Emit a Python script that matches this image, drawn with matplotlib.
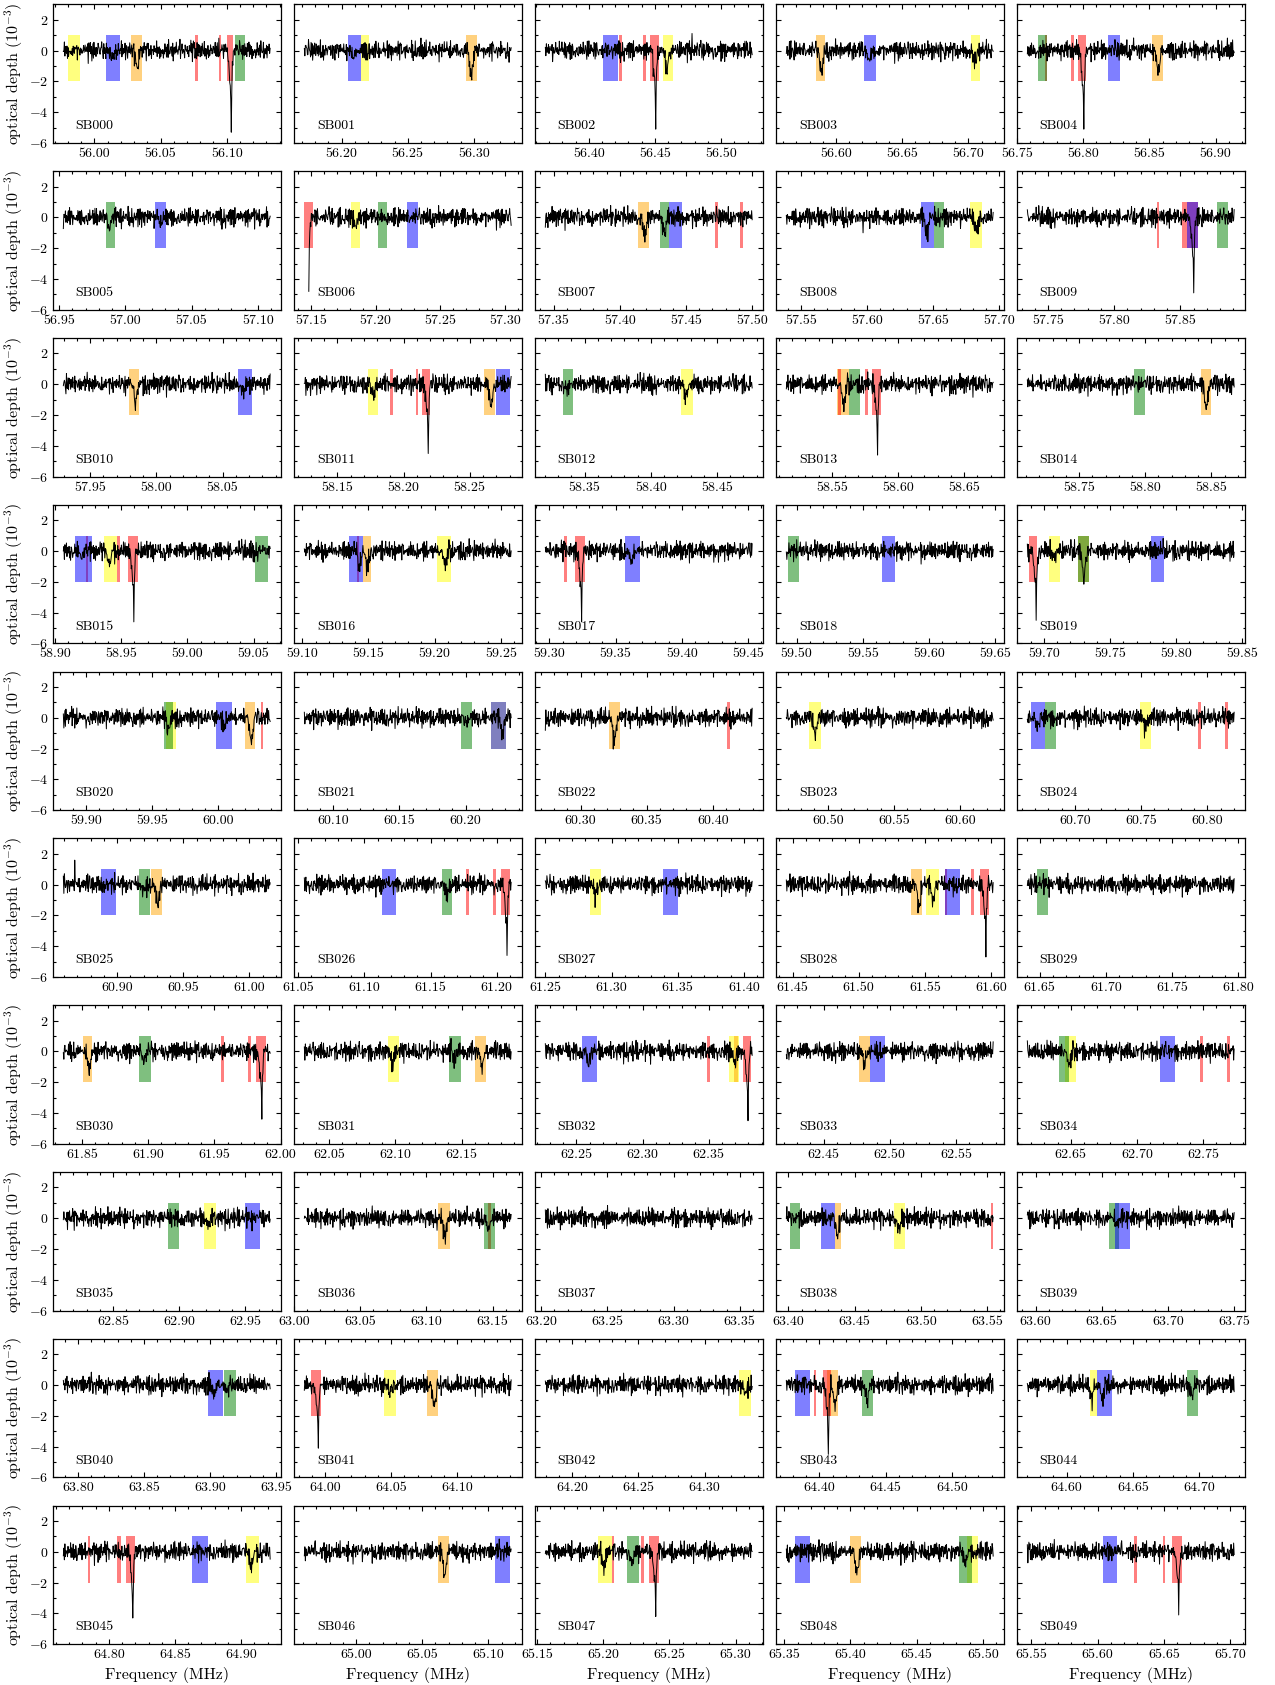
import numpy as np
import matplotlib.pyplot as plt
from matplotlib.ticker import MultipleLocator, FormatStrFormatter

plt.rcParams['font.family'] = 'serif'
plt.rcParams['font.serif'] = ['cmr10', 'DejaVu Serif']
plt.rcParams['mathtext.fontset'] = 'cm'
plt.rcParams['axes.formatter.use_mathtext'] = True
plt.rcParams['font.size'] = 10

# LOFAR subbands: panel SBnnn is subband 287 + nnn
first_subband = 287
subband_width = 0.1953125   # MHz
data_width = 0.15625        # MHz kept per subband
n_chan = 400
n_panels = 50

# hand-read noise samples (10^-3), combined per panel
noise_a = [0.12, -0.35, 0.48, -0.07, 0.21, -0.52, 0.33, 0.05, -0.28, 0.61, -0.14, 0.09, -0.41, 0.27,
           -0.03, 0.38, -0.22, 0.15, -0.60, 0.44, 0.02, -0.17, 0.29, -0.36, 0.51, -0.09, 0.18, -0.47,
           0.07, 0.34, -0.25, 0.56, -0.12, -0.31, 0.23, 0.40, -0.55, 0.11, -0.06, 0.30, -0.44, 0.19,
           0.63, -0.20, -0.01, 0.26, -0.38, 0.14, -0.58, 0.36, 0.08, -0.27, 0.45, -0.10, 0.22, -0.49,
           0.04, 0.31, -0.16, 0.53, -0.33, 0.17, -0.04, -0.42, 0.28, 0.10, -0.23, 0.47, -0.13, 0.35,
           -0.64, 0.20, 0.01, -0.30, 0.42, -0.08, 0.16, -0.51, 0.39, 0.06, -0.19, 0.25, -0.46, 0.58,
           -0.11, 0.13, -0.34, 0.32, -0.02, -0.26, 0.49, -0.15, 0.24, -0.40, 0.03, 0.37, -0.21]
noise_b = [-0.18, 0.41, -0.05, 0.27, -0.50, 0.14, 0.33, -0.29, 0.08, -0.43, 0.55, -0.12, 0.19, -0.36,
           0.02, 0.46, -0.24, 0.11, -0.57, 0.30, -0.07, 0.38, -0.15, 0.22, -0.45, 0.06, 0.52, -0.32,
           0.17, -0.09, -0.39, 0.28, 0.44, -0.20, 0.01, -0.53, 0.35, -0.11, 0.24, -0.30, 0.13, 0.59,
           -0.26, -0.04, 0.40, -0.48, 0.09, 0.21, -0.14, 0.32, -0.37, 0.05, 0.50, -0.22, 0.16, -0.61,
           0.26, -0.02, 0.36, -0.33, 0.10, -0.16, 0.47, -0.08, 0.23, -0.42, 0.04, 0.31, -0.28, 0.54,
           -0.19, 0.12, -0.35, 0.18, -0.06, 0.43, -0.47, 0.15, 0.29, -0.23, 0.07, -0.40, 0.34, -0.13,
           0.20, -0.54, 0.39, -0.01, 0.25]

# line profiles (fraction of peak depth), peak at given index
strong_shape = [0.05, 0.10, 0.18, 0.28, 0.38, 0.44, 0.55, 1.0, 0.45, 0.22, 0.10, 0.04]
strong_peak = 7
broad_shape = [0.10, 0.24, 0.42, 0.62, 0.80, 0.93, 1.0, 0.92, 0.76, 0.56, 0.36, 0.20, 0.08]
broad_peak = 6

# (sb, freq MHz, peak optical depth 10^-3)
strong_lines = [
    (0, 56.1035, -5.3), (2, 56.4506, -5.1), (4, 56.8006, -5.1), (6, 57.148, -4.8),
    (9, 57.860, -4.9), (11, 58.2185, -4.5), (13, 58.5845, -4.6), (15, 58.9597, -4.6),
    (17, 59.3243, -4.6), (19, 59.694, -4.5), (26, 61.2077, -4.6), (28, 61.5959, -4.7),
    (30, 61.986, -4.4), (32, 62.3795, -4.5), (41, 63.9949, -4.1), (43, 64.4066, -4.5),
    (45, 64.818, -4.3), (47, 65.2395, -4.2), (49, 65.6614, -4.1),
]
broad_dips = [
    (0, 56.032, -1.1), (0, 56.013, -0.5), (1, 56.298, -1.7), (1, 56.209, -0.6),
    (2, 56.459, -1.1), (3, 56.589, -1.4), (3, 56.705, -0.8), (3, 56.625, -0.7),
    (4, 56.857, -1.5), (5, 56.988, -0.6), (5, 57.027, -0.5), (6, 57.185, -0.6),
    (7, 57.419, -1.3), (7, 57.434, -1.1), (8, 57.645, -1.1), (8, 57.6826, -0.9),
    (10, 57.984, -1.2), (10, 58.066, -0.5), (11, 58.177, -0.8), (11, 58.266, -1.3),
    (12, 58.4264, -1.0), (12, 58.337, -0.4), (13, 58.559, -1.5), (14, 58.846, -1.4),
    (15, 58.941, -0.9), (15, 58.920, -0.4), (16, 59.143, -1.0), (16, 59.149, -1.0),
    (16, 59.208, -1.0), (17, 59.362, -0.8), (19, 59.730, -1.6), (19, 59.708, -0.5),
    (20, 59.962, -0.8), (20, 60.025, -1.6), (20, 60.004, -0.4), (21, 60.2276, -1.0),
    (21, 60.200, -0.4), (22, 60.3255, -1.6), (23, 60.4907, -1.1), (24, 60.672, -0.7),
    (24, 60.753, -0.6), (25, 60.9306, -1.3), (25, 60.920, -0.5), (26, 61.162, -0.6),
    (27, 61.288, -0.8), (28, 61.5454, -1.5), (28, 61.556, -1.0), (30, 61.8555, -1.3),
    (30, 61.897, -0.6), (31, 62.098, -0.9), (31, 62.1654, -1.1), (31, 62.145, -0.5),
    (32, 62.259, -0.8), (32, 62.370, -0.8), (33, 62.481, -1.0), (34, 62.6488, -1.0),
    (35, 62.922, -0.5), (36, 63.114, -1.2), (36, 63.147, -0.8), (38, 63.4367, -1.2),
    (38, 63.484, -0.7), (39, 63.662, -0.5), (40, 63.903, -0.7), (40, 63.913, -0.5),
    (41, 64.0827, -1.5), (41, 64.049, -0.6), (42, 64.331, -0.6), (43, 64.412, -1.4),
    (43, 64.436, -0.8), (44, 64.6187, -1.0), (44, 64.627, -1.0), (44, 64.695, -0.7),
    (45, 64.9078, -1.0), (46, 65.0671, -1.5), (47, 65.2005, -1.0), (47, 65.222, -0.7),
    (48, 65.4048, -1.4), (48, 65.487, -0.7),
]
noise_spikes = [(7, 57.388, 1.1), (8, 57.597, -1.5), (25, 60.868, 1.3), (4, 56.838, 1.1),
                (39, 63.722, 1.1), (2, 56.478, 0.9)]

# marked line windows (sb, lo, hi) in MHz
yellow_bands = [
    (0, 55.980, 55.989), (1, 56.215, 56.221), (2, 56.456, 56.4635), (3, 56.702, 56.709),
    (6, 57.181, 57.188), (8, 57.678, 57.687), (11, 58.173, 58.181), (12, 58.423, 58.432),
    (15, 58.937, 58.947), (16, 59.202, 59.212), (19, 59.704, 59.712), (20, 59.960, 59.968),
    (21, 60.2191, 60.2306), (23, 60.486, 60.495), (24, 60.7492, 60.7576), (27, 61.2834, 61.2924),
    (28, 61.5508, 61.5604), (31, 62.0941, 62.1031), (32, 62.365, 62.373), (34, 62.6458, 62.6536),
    (35, 62.9186, 62.9276), (38, 63.4794, 63.4884), (41, 64.0442, 64.0538), (42, 64.3261, 64.3351),
    (44, 64.6175, 64.6229), (45, 64.9038, 64.9133), (47, 65.1963, 65.2065), (48, 65.4877, 65.4961),
]
orange_bands = [
    (0, 56.028, 56.036), (1, 56.294, 56.302), (3, 56.585, 56.592), (4, 56.852, 56.860),
    (7, 57.414, 57.422), (10, 57.979, 57.987), (11, 58.261, 58.269), (13, 58.554, 58.563),
    (14, 58.8422, 58.850), (16, 59.146, 59.152), (19, 59.7257, 59.734), (20, 60.0201, 60.0273),
    (22, 60.3213, 60.3297), (25, 60.9258, 60.9336), (28, 61.5394, 61.5478), (30, 61.8507, 61.8579),
    (31, 62.1602, 62.1686), (32, 62.369, 62.372), (33, 62.4769, 62.4853), (36, 63.1091, 63.1175),
    (38, 63.4349, 63.4397), (41, 64.0767, 64.0857), (43, 64.4054, 64.4144), (46, 65.0617, 65.0701),
    (48, 65.3994, 65.4078),
]
green_bands = [
    (0, 56.106, 56.114), (4, 56.766, 56.773), (5, 56.985, 56.992), (6, 57.202, 57.209),
    (7, 57.430, 57.437), (8, 57.6506, 57.658), (9, 57.878, 57.886), (12, 58.334, 58.341),
    (13, 58.563, 58.5713), (14, 58.7918, 58.7996), (15, 59.051, 59.061), (18, 59.4937, 59.5015),
    (19, 59.7257, 59.734), (20, 59.959, 59.966), (21, 60.1963, 60.2047), (24, 60.6776, 60.6854),
    (25, 60.9168, 60.9246), (26, 61.1584, 61.1662), (29, 61.6482, 61.6566), (30, 61.8934, 61.9018),
    (31, 62.1404, 62.1494), (34, 62.641, 62.6488), (35, 62.8915, 62.8999), (36, 63.1434, 63.1518),
    (38, 63.4012, 63.409), (39, 63.6554, 63.6632), (40, 63.9102, 63.9192), (43, 64.4322, 64.4406),
    (44, 64.6908, 64.6992), (47, 65.2179, 65.2269), (48, 65.4823, 65.4919),
]
blue_bands = [
    (0, 56.009, 56.019), (1, 56.205, 56.215), (2, 56.411, 56.422), (3, 56.621, 56.630),
    (4, 56.819, 56.828), (5, 57.022, 57.031), (6, 57.224, 57.233), (7, 57.437, 57.447),
    (8, 57.6406, 57.6506), (9, 57.855, 57.863), (10, 58.062, 58.0725), (11, 58.270, 58.280),
    (15, 58.915, 58.928), (16, 59.135, 59.146), (17, 59.3567, 59.3687), (18, 59.5646, 59.5742),
    (19, 59.781, 59.7907), (20, 59.9985, 60.010), (21, 60.2191, 60.2306), (24, 60.6668, 60.6776),
    (25, 60.888, 60.8988), (26, 61.1133, 61.1241), (27, 61.3387, 61.3501), (28, 61.5652, 61.5766),
    (32, 62.254, 62.2654), (33, 62.4853, 62.4967), (34, 62.7173, 62.7287), (35, 62.9498, 62.9612),
    (38, 63.4247, 63.4349), (39, 63.6602, 63.6716), (40, 63.8982, 63.9096), (43, 64.3819, 64.3927),
    (44, 64.6229, 64.6343), (45, 64.863, 64.875), (46, 65.105, 65.1164), (48, 65.3579, 65.3693),
    (49, 65.6037, 65.6145),
]
red_bands = [
    (0, 56.076, 56.078), (0, 56.094, 56.096), (0, 56.100, 56.105),
    (2, 56.423, 56.425), (2, 56.441, 56.443), (2, 56.4465, 56.453),
    (4, 56.771, 56.773), (4, 56.791, 56.793), (4, 56.796, 56.802),
    (6, 57.145, 57.1515), (7, 57.472, 57.474), (7, 57.491, 57.493),
    (9, 57.832, 57.834), (9, 57.851, 57.863),
    (11, 58.190, 58.192), (11, 58.209, 58.211), (11, 58.214, 58.220),
    (13, 58.555, 58.557), (13, 58.575, 58.577), (13, 58.580, 58.587),
    (15, 58.923, 58.925), (15, 58.947, 58.949), (15, 58.955, 58.963),
    (16, 59.141, 59.143), (17, 59.311, 59.3135), (17, 59.319, 59.3267),
    (19, 59.689, 59.695), (20, 60.032, 60.034), (22, 60.411, 60.413),
    (24, 60.793, 60.795), (24, 60.8135, 60.8155),
    (26, 61.177, 61.179), (26, 61.1975, 61.1993), (26, 61.2035, 61.210),
    (28, 61.5652, 61.567), (28, 61.585, 61.587), (28, 61.5917, 61.5983),
    (30, 61.9547, 61.957), (30, 61.9757, 61.978), (30, 61.9817, 61.9889),
    (32, 62.3489, 62.3507), (32, 62.376, 62.382),
    (34, 62.748, 62.750), (34, 62.7684, 62.7702),
    (36, 63.1467, 63.1485), (38, 63.5527, 63.5545), (41, 63.9895, 63.9967),
    (43, 64.3957, 64.3975), (43, 64.4024, 64.4089),
    (45, 64.784, 64.786), (45, 64.806, 64.809), (45, 64.8128, 64.8198),
    (47, 65.2065, 65.2083), (47, 65.2287, 65.2305), (47, 65.2347, 65.2419),
    (49, 65.6277, 65.6295), (49, 65.6494, 65.6512), (49, 65.656, 65.6638),
]
# drawing order sets the overlap tints (blue over red gives purple)
band_sets = [(yellow_bands, 'yellow'), (orange_bands, 'orange'), (red_bands, 'red'),
             (green_bands, 'green'), (blue_bands, 'blue')]


def add_profile(tau, freq, f0, depth, shape, peak, exact_peak=False):
    k0 = int(np.argmin(np.abs(freq - f0)))
    for j, s in enumerate(shape):
        k = k0 + j - peak
        if 0 <= k < len(tau):
            tau[k] += depth * s
    if exact_peak:
        tau[k0] = depth


W, H = 1275, 1685
fig = plt.figure(figsize=(W / 100, H / 100), dpi=100)
chan = np.arange(n_chan)

for i in range(n_panels):
    row, col = divmod(i, 5)
    top = 4.5 + 166.8 * row
    ax = fig.add_axes([(53 + 241 * col) / W, 1 - (top + 138.5) / H, 227.5 / W, 138.5 / H])

    centre = (first_subband + i) * subband_width
    freq = np.linspace(centre - data_width / 2, centre + data_width / 2, n_chan)
    tau = 0.7 * (np.take(noise_a, (chan + 11 * i) % len(noise_a))
                 + np.take(noise_b, (3 * chan + 17 * i) % len(noise_b)))
    for sb, f0, d in broad_dips:
        if sb == i:
            add_profile(tau, freq, f0, d, broad_shape, broad_peak)
    for sb, f0, d in strong_lines:
        if sb == i:
            add_profile(tau, freq, f0, d, strong_shape, strong_peak, exact_peak=True)
    for sb, f0, d in noise_spikes:
        if sb == i:
            add_profile(tau, freq, f0, d, [1.0], 0)

    for bands, colour in band_sets:
        for sb, lo, hi in bands:
            if sb == i:
                ax.fill_between([lo, hi], -2, 1, color=colour, alpha=0.5, lw=0, zorder=1)

    ax.plot(freq, tau, color='k', lw=0.7, zorder=3)
    ax.set_ylim(-6, 3)
    ax.xaxis.set_major_locator(MultipleLocator(0.05))
    ax.xaxis.set_minor_locator(MultipleLocator(0.01))
    ax.xaxis.set_major_formatter(FormatStrFormatter('%.2f'))
    ax.yaxis.set_major_locator(MultipleLocator(2))
    ax.yaxis.set_minor_locator(MultipleLocator(1))
    ax.tick_params(which='both', direction='in', top=True, right=True, width=0.8, labelsize=10)
    ax.tick_params(which='major', length=3.5)
    ax.tick_params(which='minor', length=1.8)
    for sp in ax.spines.values():
        sp.set_linewidth(0.9)

    ax.text(0.1, 0.122, 'SB%03d' % i, transform=ax.transAxes, ha='left', va='center', fontsize=10)

    if col == 0:
        ax.set_ylabel(r'optical depth ($10^{-3}$)', fontsize=11.5, labelpad=3)
    else:
        ax.tick_params(labelleft=False)
    if row == 9:
        ax.set_xlabel('Frequency (MHz)', fontsize=11.5)

fig.savefig('out.png', dpi=100)
